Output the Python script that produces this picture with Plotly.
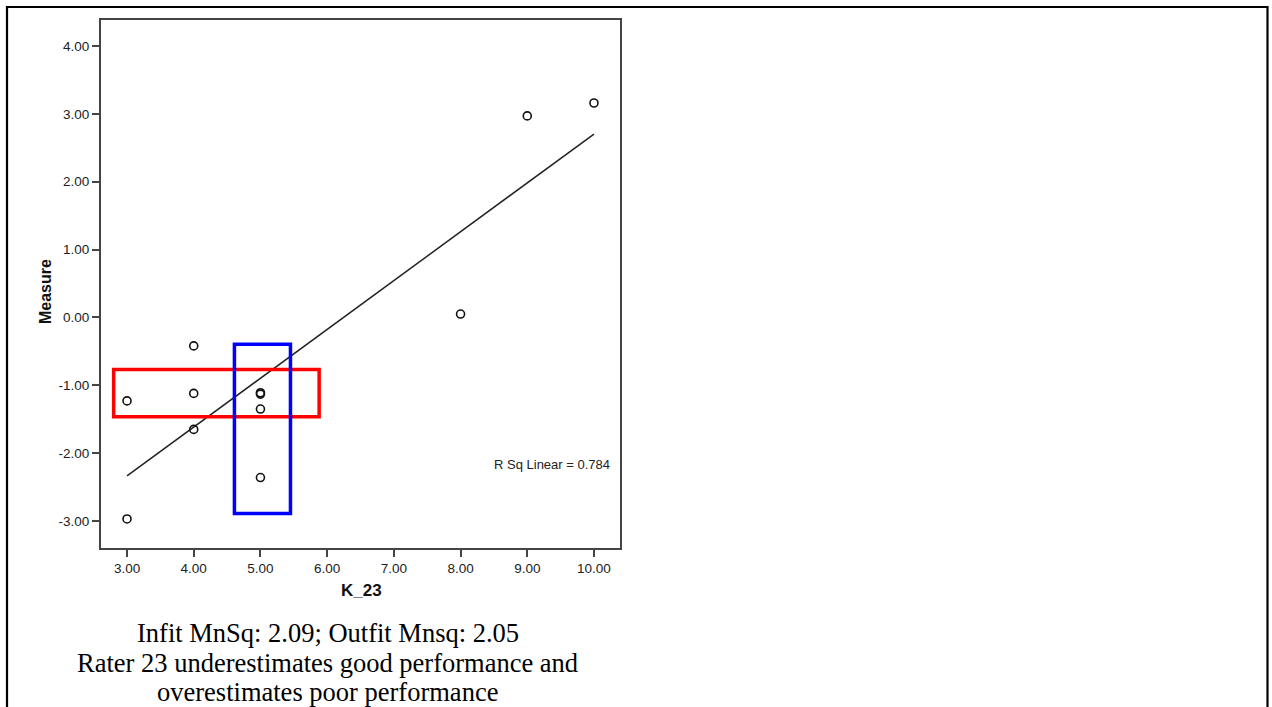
import numpy as np
import plotly.graph_objects as go

# Data
k_23 = [3, 3, 4, 4, 4, 5, 5, 5, 5, 8, 9, 10]
measure = [-1.23, -2.97, -0.42, -1.12, -1.65, -1.11, -1.13, -1.35, -2.36, 0.05, 2.97, 3.16]
x_ticks = [3, 4, 5, 6, 7, 8, 9, 10]
y_ticks = [-3, -2, -1, 0, 1, 2, 3, 4]
caption_lines = [
    "Infit MnSq: 2.09; Outfit Mnsq: 2.05",
    "Rater 23 underestimates good performance and",
    "overestimates poor performance",
]
red_box = dict(x0=2.80, x1=5.88, y0=-1.465, y1=-0.767)
blue_box = dict(x0=4.61, x1=5.45, y0=-2.89, y1=-0.396)

# Linear fit
xa = np.array(k_23, float)
ya = np.array(measure, float)
slope, intercept = np.polyfit(xa, ya, 1)
r2 = np.corrcoef(xa, ya)[0, 1] ** 2
fit_x = [xa.min(), xa.max()]
fit_y = [slope * v + intercept for v in fit_x]

W, H = 1272, 707
L, R, T, B = 101, 620, 20, 548

def px_x(p):
    return (p - L) / (R - L)

def px_y(p):
    return (B - p) / (B - T)

fig = go.Figure()
fig.add_trace(go.Scatter(x=fit_x, y=fit_y, mode="lines",
                         line=dict(color="#222", width=1.5), showlegend=False))
fig.add_trace(go.Scatter(x=k_23, y=measure, mode="markers",
                         marker=dict(symbol="circle-open", size=8, color="#111",
                                     line=dict(width=1.6, color="#111")),
                         showlegend=False))

axis_common = dict(showgrid=False, zeroline=False, showline=True, linecolor="#444",
                   linewidth=2, mirror=True, ticks="outside", ticklen=7, tickwidth=1.5,
                   tickcolor="#444", tickfont=dict(family="Arial, Liberation Sans", size=13.5, color="#222"))

fig.update_xaxes(range=[2.61, 10.39], tickvals=x_ticks,
                 ticktext=[f"{v:.2f}" for v in x_ticks], **axis_common)
fig.update_yaxes(range=[-3.398, 4.383], tickvals=y_ticks,
                 ticktext=[f"{v:.2f}" for v in y_ticks], **axis_common)

shapes = [
    dict(type="rect", xref="x", yref="y", **red_box, line=dict(color="#ff0000", width=3.5)),
    dict(type="rect", xref="x", yref="y", **blue_box, line=dict(color="#0000ff", width=3.5)),
    dict(type="rect", xref="paper", yref="paper", x0=px_x(7), x1=px_x(1267.5),
         y0=px_y(7), y1=px_y(760), line=dict(color="#000", width=2.2), layer="above"),
]

annotations = [
    dict(x=px_x(45), y=px_y(292), xref="paper", yref="paper", text="<b>Measure</b>",
         textangle=-90, showarrow=False, xanchor="center", yanchor="middle",
         font=dict(family="Arial, Liberation Sans", size=16, color="#111")),
    dict(x=px_x(361), y=px_y(590), xref="paper", yref="paper", text="<b>K_23</b>",
         showarrow=False, xanchor="center", yanchor="middle",
         font=dict(family="Arial, Liberation Sans", size=17, color="#111")),
    dict(x=px_x(612), y=px_y(464), xref="paper", yref="paper", text=f"R Sq Linear = {r2:.3f}",
         xanchor="right", yanchor="middle", showarrow=False,
         font=dict(family="Arial, Liberation Sans", size=13, color="#222")),
]
for txt, yy in zip(caption_lines, [633, 663, 692]):
    annotations.append(dict(x=px_x(327.5), y=px_y(yy), xref="paper", yref="paper", text=txt,
                            showarrow=False, xanchor="center", yanchor="middle",
                            font=dict(family="Liberation Serif, Times New Roman", size=26.5, color="#000")))

fig.update_layout(width=W, height=H, margin=dict(l=L, r=W - R, t=T, b=H - B),
                  paper_bgcolor="white", plot_bgcolor="white",
                  shapes=shapes, annotations=annotations)

fig.write_html("out.html")
